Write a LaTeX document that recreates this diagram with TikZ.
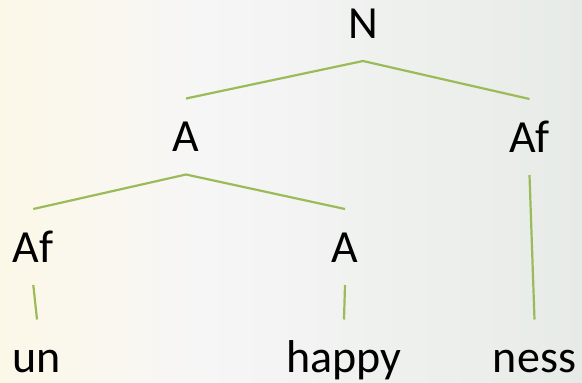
\documentclass[tikz,border=0pt]{standalone}
\usepackage{fontspec}
\setmainfont{Carlito}
\definecolor{twig}{RGB}{155,187,89}
\definecolor{bgleft}{RGB}{252,248,232}
\definecolor{bgmid}{RGB}{246,246,246}
\definecolor{bgright}{RGB}{231,235,231}
\begin{document}
\begin{tikzpicture}[x=1pt,y=-1pt,
    cat/.style={anchor=base,inner xsep=0pt,inner ysep=23pt,outer sep=0pt,
      text height=30pt,text depth=0pt,font=\fontsize{46}{55}\selectfont},
    leaf/.style={cat,inner ysep=0pt,text height=53pt,text depth=8pt},
    arm/.style={draw=twig,line width=2.2pt}]
    \shade[left color=bgleft,right color=bgmid] (0,0) rectangle (200,383);
    \shade[left color=bgmid,right color=bgright] (200,0) rectangle (582,383);
    \useasboundingbox (0,0) rectangle (582,383);
    \node[cat] (N) at (363,38) {N};
    \node[cat] (A1) at (186,151.5) {A};  \node[cat] (Af1) at (529.5,152) {Af};
    \node[cat] (Af2) at (33.3,262) {Af}; \node[cat] (A2) at (345,262) {A};
    \node[leaf] (un) at (37,372.5) {un};  \node[leaf] (happy) at (344,372.5) {happy};
    \node[leaf] (ness) at (534.5,372.5) {ness};
    \draw[arm] (A1.north)--(N.south)--(Af1.north);
    \draw[arm] (Af2.north)--(A1.south)--(A2.north);
    \draw[arm] (Af2.south)--(un.north); \draw[arm] (A2.south)--(happy.north);
    \draw[arm] (Af1.south)--(ness.north);
  \end{tikzpicture}
\end{document}
